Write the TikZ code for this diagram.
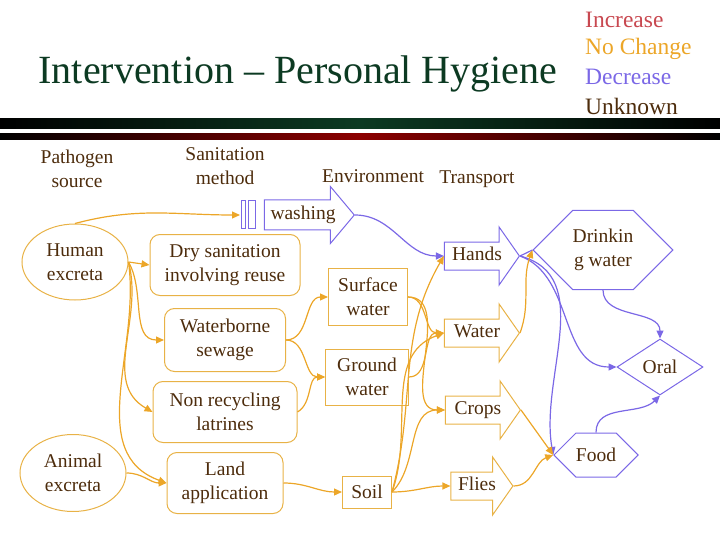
\documentclass[tikz,border=0pt]{standalone}
\usepackage{fontspec}
\setmainfont{Liberation Serif}
\usetikzlibrary{shapes.geometric,shapes.arrows,shapes.symbols,arrows.meta}

\definecolor{titlegreen}{RGB}{12,58,34}
\definecolor{increase}{RGB}{200,72,80}
\definecolor{nochange}{RGB}{236,166,40}
\definecolor{decrease}{RGB}{123,104,230}
\definecolor{unknown}{RGB}{77,44,12}
\definecolor{boxgold}{RGB}{232,178,70}

\tikzset{
  txt/.style={text=unknown, align=center, font=\fontsize{19.5}{24}\selectfont},
  src/.style={txt, ellipse, draw=boxgold, line width=1pt, minimum width=106pt, minimum height=76pt, inner sep=0pt},
  san/.style={txt, draw=boxgold, line width=1pt, rounded corners=10pt, inner sep=0pt},
  env/.style={txt, draw=boxgold, line width=1pt, inner sep=0pt},
  tra/.style={txt, single arrow, draw=boxgold, line width=1pt, single arrow head extend=15pt,
    single arrow tip angle=110, minimum height=75pt, inner xsep=2pt, inner ysep=5.5pt,
    text height=12pt, text depth=4pt},
  hexa/.style={txt, signal, signal to=west and east, signal pointer angle=90, draw=decrease,
    line width=1pt, inner sep=0pt},
  legend/.style={anchor=west, inner sep=0pt, font=\fontsize{23.5}{28}\selectfont},
  nc/.style={nochange, line width=1.2pt, -{Triangle[length=8pt,width=7pt]}},
  dc/.style={decrease, line width=1.2pt, -{Triangle[length=8pt,width=7pt]}}
}

\begin{document}
\begin{tikzpicture}[x=1pt,y=-1pt]
\useasboundingbox (0,0) rectangle (720,540);

% title and legend
\node[text=titlegreen, inner sep=0pt, font=\fontsize{40}{48}\selectfont] (title) at (298,74) {Intervention – Personal Hygiene};
\node[legend, text=increase] (inc) at (585,20) {Increase};
\node[legend, text=nochange] (noch) at (585,49) {No Change};
\node[legend, text=decrease] (decr) at (585,77) {Decrease};
\node[legend, text=unknown] (unkn) at (585,106) {Unknown};

\shade[left color=black, right color=black, middle color=titlegreen] (0,119) rectangle (720,129);
\shade[left color=black, right color=black, middle color=red!55!black] (0,134) rectangle (720,140);

% column headings
\node[txt] (hdpath) at (77,169) {Pathogen\\source};
\node[txt] (hdsan) at (225,166) {Sanitation\\method};
\node[txt] (hdenv) at (373,176) {Environment};
\node[txt] (hdtra) at (477,179) {Transport};

% pathogen source
\node[src] (human) at (75,262) {Human\\excreta};
\node[src, minimum height=77pt] (animal) at (73,473) {Animal\\excreta};

% sanitation
\node[san, minimum width=150pt, minimum height=61pt] (dry) at (225,265) {Dry sanitation\\involving reuse};
\node[san, minimum width=121pt, minimum height=63pt] (sewage) at (225,340) {Waterborne\\sewage};
\node[san, minimum width=144pt, minimum height=61pt] (latrine) at (225,412) {Non recycling\\latrines};
\node[san, minimum width=116pt, minimum height=61pt] (land) at (225,483) {Land\\application};

% environment
\node[env, minimum width=79pt, minimum height=57pt] (surface) at (368,297) {Surface\\water};
\node[env, minimum width=83pt, minimum height=56pt] (ground) at (367,377) {Ground\\water};
\node[env, minimum width=49pt, minimum height=32pt] (soil) at (367,492) {Soil};

% transport
\node[tra, draw=decrease, single arrow tip angle=100, single arrow head extend=13.5pt,
  minimum height=90pt, inner ysep=6.5pt] (washing) at (303,215) {washing};
\draw[decrease, line width=1pt] (241,201) rectangle (245,229);
\draw[decrease, line width=1pt] (248,201) rectangle (255,229);
\coordinate (washtail) at (240,215);
\node[tra, draw=decrease] (hands) at (477,256) {Hands};
\node[tra] (water) at (477,333) {Water};
\node[tra] (crops) at (478,410) {Crops};
\node[tra, minimum height=62pt] (flies) at (477,486) {Flies};

% exposure
\node[hexa, minimum width=129pt, minimum height=79pt] (drink) at (603,250) {Drinkin\\g water};
\node[hexa, minimum width=78pt, minimum height=44pt] (food) at (596,455) {Food};
\node[txt, diamond, aspect=1.5, draw=decrease, line width=1pt, inner sep=0pt,
  minimum width=86pt, minimum height=56pt] (oral) at (660,367) {Oral};

% decrease
\draw[dc] (washing.tip) to[out=0,in=180] (hands.west);
\draw[decrease, line width=1.2pt] (hands.tip) -- (drink.west);
\draw[dc] (hands.tip) to[out=-15,in=100] (food.west);
\draw[dc] (hands.tip) to[out=-20,in=180] (oral.west);
\draw[dc] (drink.south) to[out=-90,in=90] (oral.north);
\draw[dc] (food.north) to[out=90,in=225] (oral.south);

% no change
\draw[nc] (human.north) to[out=15,in=180] (washtail);
\draw[nc] (human.east) -- (dry.west);
\draw[nc] (human.east) to[out=-60,in=180] (sewage.west);
\draw[nc] (human.east) to[out=-75,in=150] (latrine.west);
\draw[nc] (human.east) to[out=-82,in=160] (land.west);
\draw[nc] (animal.east) to[out=0,in=180] (land.west);
\draw[nc] (sewage.east) to[out=0,in=180] (surface.west);
\draw[nc] (sewage.east) to[out=0,in=180] (ground.west);
\draw[nc] (latrine.east) to[out=30,in=180] (ground.west);
\draw[nc] (land.east) to[out=0,in=180] (soil.west);
\draw[nc] (surface.east) to[out=0,in=180] (water.west);
\draw[nc] (surface.east) to[out=0,in=180] (crops.west);
\draw[nc] (ground.east) to[out=0,in=180] (water.west);
\draw[nc] (soil.east) to[out=75,in=240] (hands.west);
\draw[nc] (soil.east) to[out=70,in=200] (water.west);
\draw[nc] (soil.east) to[out=45,in=180] (crops.west);
\draw[nc] (soil.east) to[out=0,in=180] (flies.west);
\draw[nc] (water.tip) to[out=70,in=250] (drink.west);
\draw[nc] (crops.tip) -- (food.west);
\draw[nc] (flies.tip) to[out=0,in=200] (food.west);

\end{tikzpicture}
\end{document}
